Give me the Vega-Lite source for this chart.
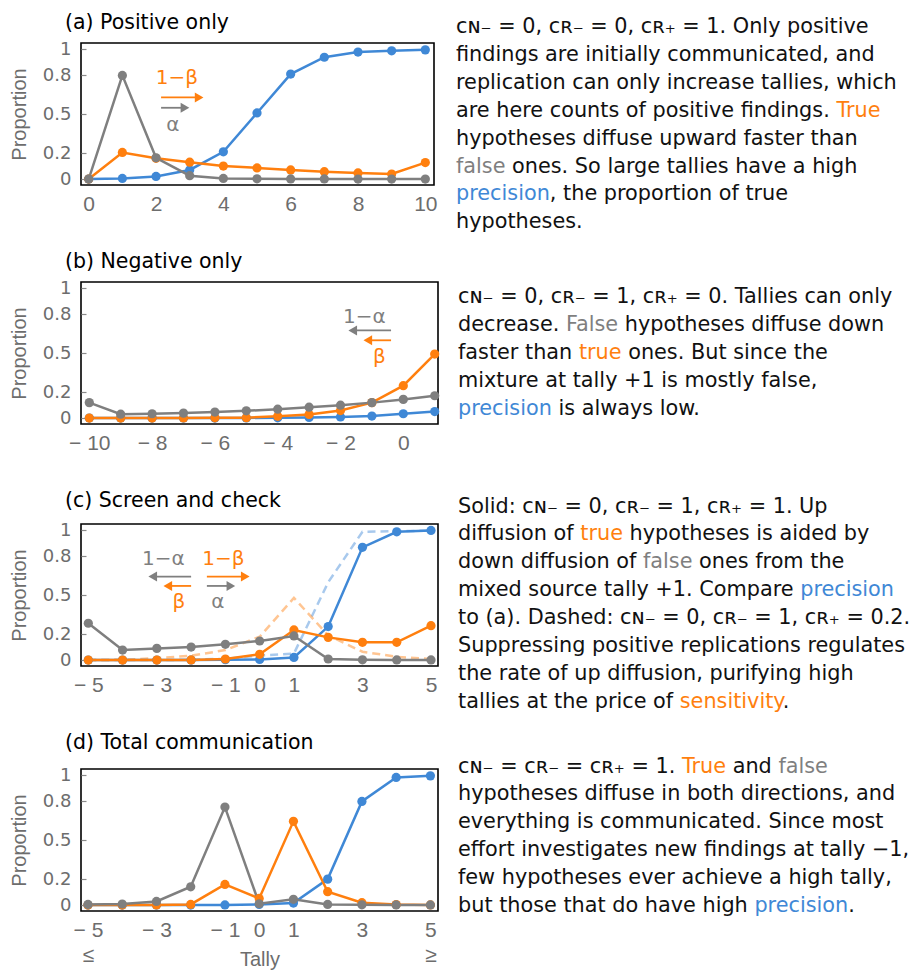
{
"$schema": "https://vega.github.io/schema/vega-lite/v6.json",
"padding": {"left": 8, "top": 12, "right": 0, "bottom": 0},
"config": {
  "font": "DejaVu Sans",
  "view": {"stroke": "black", "strokeWidth": 1.6},
  "axis": {"domain": false, "ticks": false, "grid": false, "labelColor": "#6d6d6d", "titleColor": "#6d6d6d", "labelFlush": false, "labelOverlap": false},
  "axisX": {"labelFont": "Liberation Sans", "labelFontSize": 21, "labelPadding": 8},
  "axisY": {"labelFont": "DejaVu Sans", "labelFontSize": 18, "labelPadding": 15, "ticks": true, "tickSize": -5, "tickColor": "#8a8a8a", "tickWidth": 1.2, "titleFont": "Liberation Sans", "titleFontSize": 20, "titleFontWeight": "normal", "titlePadding": 13},
  "title": {"font": "DejaVu Sans", "fontSize": 20.5, "fontWeight": "normal", "anchor": "start", "frame": "group", "color": "black", "dx": -16}
},
"datasets": {
  "ser": [
    {"panel":"a","st":"solid","h":"Precision","x":0,"y":0},{"panel":"a","st":"solid","h":"Precision","x":1,"y":0.005},{"panel":"a","st":"solid","h":"Precision","x":2,"y":0.02},{"panel":"a","st":"solid","h":"Precision","x":3,"y":0.07},{"panel":"a","st":"solid","h":"Precision","x":4,"y":0.21},{"panel":"a","st":"solid","h":"Precision","x":5,"y":0.51},{"panel":"a","st":"solid","h":"Precision","x":6,"y":0.81},{"panel":"a","st":"solid","h":"Precision","x":7,"y":0.94},{"panel":"a","st":"solid","h":"Precision","x":8,"y":0.98},{"panel":"a","st":"solid","h":"Precision","x":9,"y":0.99},{"panel":"a","st":"solid","h":"Precision","x":10,"y":0.997},
    {"panel":"a","st":"solid","h":"True","x":0,"y":0},{"panel":"a","st":"solid","h":"True","x":1,"y":0.205},{"panel":"a","st":"solid","h":"True","x":2,"y":0.16},{"panel":"a","st":"solid","h":"True","x":3,"y":0.13},{"panel":"a","st":"solid","h":"True","x":4,"y":0.1},{"panel":"a","st":"solid","h":"True","x":5,"y":0.086},{"panel":"a","st":"solid","h":"True","x":6,"y":0.07},{"panel":"a","st":"solid","h":"True","x":7,"y":0.057},{"panel":"a","st":"solid","h":"True","x":8,"y":0.047},{"panel":"a","st":"solid","h":"True","x":9,"y":0.039},{"panel":"a","st":"solid","h":"True","x":10,"y":0.127},
    {"panel":"a","st":"solid","h":"False","x":0,"y":0},{"panel":"a","st":"solid","h":"False","x":1,"y":0.8},{"panel":"a","st":"solid","h":"False","x":2,"y":0.164},{"panel":"a","st":"solid","h":"False","x":3,"y":0.026},{"panel":"a","st":"solid","h":"False","x":4,"y":0.005},{"panel":"a","st":"solid","h":"False","x":5,"y":0.002},{"panel":"a","st":"solid","h":"False","x":6,"y":0.001},{"panel":"a","st":"solid","h":"False","x":7,"y":0.001},{"panel":"a","st":"solid","h":"False","x":8,"y":0},{"panel":"a","st":"solid","h":"False","x":9,"y":0},{"panel":"a","st":"solid","h":"False","x":10,"y":0},

    {"panel":"b","st":"solid","h":"Precision","x":-10,"y":0},{"panel":"b","st":"solid","h":"Precision","x":-9,"y":0},{"panel":"b","st":"solid","h":"Precision","x":-8,"y":0},{"panel":"b","st":"solid","h":"Precision","x":-7,"y":0},{"panel":"b","st":"solid","h":"Precision","x":-6,"y":0},{"panel":"b","st":"solid","h":"Precision","x":-5,"y":0.001},{"panel":"b","st":"solid","h":"Precision","x":-4,"y":0.002},{"panel":"b","st":"solid","h":"Precision","x":-3,"y":0.005},{"panel":"b","st":"solid","h":"Precision","x":-2,"y":0.008},{"panel":"b","st":"solid","h":"Precision","x":-1,"y":0.015},{"panel":"b","st":"solid","h":"Precision","x":0,"y":0.033},{"panel":"b","st":"solid","h":"Precision","x":1,"y":0.05},
    {"panel":"b","st":"solid","h":"True","x":-10,"y":0},{"panel":"b","st":"solid","h":"True","x":-9,"y":0},{"panel":"b","st":"solid","h":"True","x":-8,"y":0},{"panel":"b","st":"solid","h":"True","x":-7,"y":0.001},{"panel":"b","st":"solid","h":"True","x":-6,"y":0.002},{"panel":"b","st":"solid","h":"True","x":-5,"y":0.003},{"panel":"b","st":"solid","h":"True","x":-4,"y":0.013},{"panel":"b","st":"solid","h":"True","x":-3,"y":0.028},{"panel":"b","st":"solid","h":"True","x":-2,"y":0.058},{"panel":"b","st":"solid","h":"True","x":-1,"y":0.119},{"panel":"b","st":"solid","h":"True","x":0,"y":0.25},{"panel":"b","st":"solid","h":"True","x":1,"y":0.494},
    {"panel":"b","st":"solid","h":"False","x":-10,"y":0.119},{"panel":"b","st":"solid","h":"False","x":-9,"y":0.03},{"panel":"b","st":"solid","h":"False","x":-8,"y":0.033},{"panel":"b","st":"solid","h":"False","x":-7,"y":0.038},{"panel":"b","st":"solid","h":"False","x":-6,"y":0.046},{"panel":"b","st":"solid","h":"False","x":-5,"y":0.056},{"panel":"b","st":"solid","h":"False","x":-4,"y":0.068},{"panel":"b","st":"solid","h":"False","x":-3,"y":0.084},{"panel":"b","st":"solid","h":"False","x":-2,"y":0.099},{"panel":"b","st":"solid","h":"False","x":-1,"y":0.119},{"panel":"b","st":"solid","h":"False","x":0,"y":0.144},{"panel":"b","st":"solid","h":"False","x":1,"y":0.172},

    {"panel":"c","st":"dashed","h":"Precision","x":-5,"y":0},{"panel":"c","st":"dashed","h":"Precision","x":-4,"y":0},{"panel":"c","st":"dashed","h":"Precision","x":-3,"y":0},{"panel":"c","st":"dashed","h":"Precision","x":-2,"y":0.002},{"panel":"c","st":"dashed","h":"Precision","x":-1,"y":0.01},{"panel":"c","st":"dashed","h":"Precision","x":0,"y":0.035},{"panel":"c","st":"dashed","h":"Precision","x":1,"y":0.05},{"panel":"c","st":"dashed","h":"Precision","x":2,"y":0.6},{"panel":"c","st":"dashed","h":"Precision","x":3,"y":0.99},{"panel":"c","st":"dashed","h":"Precision","x":4,"y":0.995},{"panel":"c","st":"dashed","h":"Precision","x":5,"y":0.998},
    {"panel":"c","st":"dashed","h":"True","x":-5,"y":0},{"panel":"c","st":"dashed","h":"True","x":-4,"y":0.002},{"panel":"c","st":"dashed","h":"True","x":-3,"y":0.015},{"panel":"c","st":"dashed","h":"True","x":-2,"y":0.033},{"panel":"c","st":"dashed","h":"True","x":-1,"y":0.077},{"panel":"c","st":"dashed","h":"True","x":0,"y":0.18},{"panel":"c","st":"dashed","h":"True","x":1,"y":0.48},{"panel":"c","st":"dashed","h":"True","x":2,"y":0.19},{"panel":"c","st":"dashed","h":"True","x":3,"y":0.064},{"panel":"c","st":"dashed","h":"True","x":4,"y":0.025},{"panel":"c","st":"dashed","h":"True","x":5,"y":0.008},
    {"panel":"c","st":"solid","h":"Precision","x":-5,"y":0},{"panel":"c","st":"solid","h":"Precision","x":-4,"y":0},{"panel":"c","st":"solid","h":"Precision","x":-3,"y":0},{"panel":"c","st":"solid","h":"Precision","x":-2,"y":0},{"panel":"c","st":"solid","h":"Precision","x":-1,"y":0.003},{"panel":"c","st":"solid","h":"Precision","x":0,"y":0.005},{"panel":"c","st":"solid","h":"Precision","x":1,"y":0.02},{"panel":"c","st":"solid","h":"Precision","x":2,"y":0.258},{"panel":"c","st":"solid","h":"Precision","x":3,"y":0.87},{"panel":"c","st":"solid","h":"Precision","x":4,"y":0.99},{"panel":"c","st":"solid","h":"Precision","x":5,"y":1.0},
    {"panel":"c","st":"solid","h":"True","x":-5,"y":0},{"panel":"c","st":"solid","h":"True","x":-4,"y":0},{"panel":"c","st":"solid","h":"True","x":-3,"y":0},{"panel":"c","st":"solid","h":"True","x":-2,"y":0.001},{"panel":"c","st":"solid","h":"True","x":-1,"y":0.008},{"panel":"c","st":"solid","h":"True","x":0,"y":0.044},{"panel":"c","st":"solid","h":"True","x":1,"y":0.232},{"panel":"c","st":"solid","h":"True","x":2,"y":0.175},{"panel":"c","st":"solid","h":"True","x":3,"y":0.137},{"panel":"c","st":"solid","h":"True","x":4,"y":0.137},{"panel":"c","st":"solid","h":"True","x":5,"y":0.265},
    {"panel":"c","st":"solid","h":"False","x":-5,"y":0.284},{"panel":"c","st":"solid","h":"False","x":-4,"y":0.077},{"panel":"c","st":"solid","h":"False","x":-3,"y":0.09},{"panel":"c","st":"solid","h":"False","x":-2,"y":0.1},{"panel":"c","st":"solid","h":"False","x":-1,"y":0.121},{"panel":"c","st":"solid","h":"False","x":0,"y":0.147},{"panel":"c","st":"solid","h":"False","x":1,"y":0.186},{"panel":"c","st":"solid","h":"False","x":2,"y":0.008},{"panel":"c","st":"solid","h":"False","x":3,"y":0.002},{"panel":"c","st":"solid","h":"False","x":4,"y":0.001},{"panel":"c","st":"solid","h":"False","x":5,"y":0.001},

    {"panel":"d","st":"solid","h":"Precision","x":-5,"y":0},{"panel":"d","st":"solid","h":"Precision","x":-4,"y":0},{"panel":"d","st":"solid","h":"Precision","x":-3,"y":0},{"panel":"d","st":"solid","h":"Precision","x":-2,"y":0},{"panel":"d","st":"solid","h":"Precision","x":-1,"y":0.001},{"panel":"d","st":"solid","h":"Precision","x":0,"y":0.005},{"panel":"d","st":"solid","h":"Precision","x":1,"y":0.015},{"panel":"d","st":"solid","h":"Precision","x":2,"y":0.2},{"panel":"d","st":"solid","h":"Precision","x":3,"y":0.8},{"panel":"d","st":"solid","h":"Precision","x":4,"y":0.985},{"panel":"d","st":"solid","h":"Precision","x":5,"y":0.997},
    {"panel":"d","st":"solid","h":"True","x":-5,"y":0},{"panel":"d","st":"solid","h":"True","x":-4,"y":0},{"panel":"d","st":"solid","h":"True","x":-3,"y":0.001},{"panel":"d","st":"solid","h":"True","x":-2,"y":0.005},{"panel":"d","st":"solid","h":"True","x":-1,"y":0.159},{"panel":"d","st":"solid","h":"True","x":0,"y":0.051},{"panel":"d","st":"solid","h":"True","x":1,"y":0.646},{"panel":"d","st":"solid","h":"True","x":2,"y":0.103},{"panel":"d","st":"solid","h":"True","x":3,"y":0.018},{"panel":"d","st":"solid","h":"True","x":4,"y":0.004},{"panel":"d","st":"solid","h":"True","x":5,"y":0.001},
    {"panel":"d","st":"solid","h":"False","x":-5,"y":0.005},{"panel":"d","st":"solid","h":"False","x":-4,"y":0.008},{"panel":"d","st":"solid","h":"False","x":-3,"y":0.028},{"panel":"d","st":"solid","h":"False","x":-2,"y":0.141},{"panel":"d","st":"solid","h":"False","x":-1,"y":0.756},{"panel":"d","st":"solid","h":"False","x":0,"y":0.01},{"panel":"d","st":"solid","h":"False","x":1,"y":0.044},{"panel":"d","st":"solid","h":"False","x":2,"y":0.005},{"panel":"d","st":"solid","h":"False","x":3,"y":0.002},{"panel":"d","st":"solid","h":"False","x":4,"y":0.001},{"panel":"d","st":"solid","h":"False","x":5,"y":0.001}
  ],
  "arr": [
    {"panel":"a","h":"True","x":2.15,"xe":3.28,"y":0.63},
    {"panel":"a","h":"False","x":2.15,"xe":2.86,"y":0.55},
    {"panel":"b","h":"False","x":-0.39,"xe":-1.61,"y":0.676},
    {"panel":"b","h":"True","x":-0.39,"xe":-1.13,"y":0.6},
    {"panel":"c","h":"False","x":-2.0,"xe":-3.12,"y":0.644},
    {"panel":"c","h":"True","x":-2.0,"xe":-2.68,"y":0.572},
    {"panel":"c","h":"True","x":-1.54,"xe":-0.42,"y":0.644},
    {"panel":"c","h":"False","x":-1.54,"xe":-0.84,"y":0.572}
  ],
  "head": [
    {"panel":"a","h":"True","dir":"right","x":3.28,"y":0.63},
    {"panel":"a","h":"False","dir":"right","x":2.86,"y":0.55},
    {"panel":"b","h":"False","dir":"left","x":-1.61,"y":0.676},
    {"panel":"b","h":"True","dir":"left","x":-1.13,"y":0.6},
    {"panel":"c","h":"False","dir":"left","x":-3.12,"y":0.644},
    {"panel":"c","h":"True","dir":"left","x":-2.68,"y":0.572},
    {"panel":"c","h":"True","dir":"right","x":-0.42,"y":0.644},
    {"panel":"c","h":"False","dir":"right","x":-0.84,"y":0.572}
  ],
  "lab": [
    {"panel":"a","h":"True","s":"1−β","x":2.62,"y":0.778},
    {"panel":"a","h":"False","s":"α","x":2.5,"y":0.416},
    {"panel":"b","h":"False","s":"1−α","x":-1.24,"y":0.777},
    {"panel":"b","h":"True","s":"β","x":-0.76,"y":0.468},
    {"panel":"c","h":"False","s":"1−α","x":-2.81,"y":0.78},
    {"panel":"c","h":"True","s":"β","x":-2.36,"y":0.445},
    {"panel":"c","h":"True","s":"1−β","x":-1.06,"y":0.78},
    {"panel":"c","h":"False","s":"α","x":-1.22,"y":0.45}
  ],
  "txt": [
    {"p":"a","k":0,"t":"cɴ₋ = 0, cʀ₋ = 0, cʀ₊ = 1. Only positive"},
    {"p":"a","k":1,"t":"findings are initially communicated, and"},
    {"p":"a","k":2,"t":"replication can only increase tallies, which"},
    {"p":"a","k":3,"t":"are here counts of positive findings. True"},
    {"p":"a","k":4,"t":"hypotheses diffuse upward faster than"},
    {"p":"a","k":5,"t":"false ones. So large tallies have a high"},
    {"p":"a","k":6,"t":"precision, the proportion of true"},
    {"p":"a","k":7,"t":"hypotheses."},
    {"p":"b","k":0,"t":"cɴ₋ = 0, cʀ₋ = 1, cʀ₊ = 0. Tallies can only"},
    {"p":"b","k":1,"t":"decrease. False hypotheses diffuse down"},
    {"p":"b","k":2,"t":"faster than true ones. But since the"},
    {"p":"b","k":3,"t":"mixture at tally +1 is mostly false,"},
    {"p":"b","k":4,"t":"precision is always low."},
    {"p":"c","k":0,"t":"Solid: cɴ₋ = 0, cʀ₋ = 1, cʀ₊ = 1. Up"},
    {"p":"c","k":1,"t":"diffusion of true hypotheses is aided by"},
    {"p":"c","k":2,"t":"down diffusion of false ones from the"},
    {"p":"c","k":3,"t":"mixed source tally +1. Compare precision"},
    {"p":"c","k":4,"t":"to (a). Dashed: cɴ₋ = 0, cʀ₋ = 1, cʀ₊ = 0.2."},
    {"p":"c","k":5,"t":"Suppressing positive replications regulates"},
    {"p":"c","k":6,"t":"the rate of up diffusion, purifying high"},
    {"p":"c","k":7,"t":"tallies at the price of sensitivity."},
    {"p":"d","k":0,"t":"cɴ₋ = cʀ₋ = cʀ₊ = 1. True and false"},
    {"p":"d","k":1,"t":"hypotheses diffuse in both directions, and"},
    {"p":"d","k":2,"t":"everything is communicated. Since most"},
    {"p":"d","k":3,"t":"effort investigates new findings at tally −1,"},
    {"p":"d","k":4,"t":"few hypotheses ever achieve a high tally,"},
    {"p":"d","k":5,"t":"but those that do have high precision."}
  ],
  "hl": [
    {"p":"a","k":3,"r":1,"c":"True","upto":"are here counts of positive findings. True","before":"are here counts of positive findings. "},
    {"p":"a","k":5,"r":1,"c":"False","upto":"false","before":""},
    {"p":"a","k":6,"r":1,"c":"Precision","upto":"precision","before":""},
    {"p":"b","k":1,"r":1,"c":"False","upto":"decrease. False","before":"decrease. "},
    {"p":"b","k":2,"r":1,"c":"True","upto":"faster than true","before":"faster than "},
    {"p":"b","k":4,"r":1,"c":"Precision","upto":"precision","before":""},
    {"p":"c","k":1,"r":1,"c":"True","upto":"diffusion of true","before":"diffusion of "},
    {"p":"c","k":2,"r":1,"c":"False","upto":"down diffusion of false","before":"down diffusion of "},
    {"p":"c","k":3,"r":1,"c":"Precision","upto":"mixed source tally +1. Compare precision","before":"mixed source tally +1. Compare "},
    {"p":"c","k":7,"r":1,"c":"True","upto":"tallies at the price of sensitivity","before":"tallies at the price of "},
    {"p":"d","k":0,"r":1,"c":"True","upto":"cɴ₋ = cʀ₋ = cʀ₊ = 1. True","before":"cɴ₋ = cʀ₋ = cʀ₊ = 1. "},
    {"p":"d","k":0,"r":2,"c":"False","upto":"cɴ₋ = cʀ₋ = cʀ₊ = 1. True and false","before":"cɴ₋ = cʀ₋ = cʀ₊ = 1. True and "},
    {"p":"d","k":5,"r":1,"c":"Precision","upto":"but those that do have high precision","before":"but those that do have high "}
  ]
},
"spacing": 16,
"vconcat": [
  {"hconcat": [
    {"width": 353, "height": 142,
     "title": {"text": "(a) Positive only", "offset": 6.5},
     "encoding": {
       "x": {"field":"x","type":"quantitative","scale":{"domain":[-0.229,10.258],"nice":false,"zero":false},"axis":{"values":[0,2,4,6,8,10],"title":null}},
       "y": {"field":"y","type":"quantitative","scale":{"domain":[-0.046,1.05],"nice":false,"zero":false},"axis":{"values":[0,0.2,0.5,0.8,1],"format":"~g","title":"Proportion"}},
       "color": {"field":"h","type":"nominal","scale":{"domain":["Precision","True","False"],"range":["#3f88d6","#ff7f0e","#7f7f7f"]},"legend":null}
     },
     "layer": [
       {"data":{"name":"ser"},"transform":[{"filter":"datum.panel=='a'"}],"mark":{"type":"line","strokeWidth":2.5},"encoding":{}},
       {"data":{"name":"ser"},"transform":[{"filter":"datum.panel=='a'"}],"mark":{"type":"point","filled":true,"size":85,"opacity":1},"encoding":{}},
       {"data":{"name":"arr"},"transform":[{"filter":"datum.panel=='a'"}],"mark":{"type":"rule","strokeWidth":1.8},"encoding":{"x2":{"field":"xe"}}},
       {"data":{"name":"head"},"transform":[{"filter":"datum.panel=='a'"}],"mark":{"type":"point","filled":true,"size":100,"opacity":1},"encoding":{"shape":{"field":"dir","type":"nominal","scale":{"domain":["right","left"],"range":["triangle-right","triangle-left"]},"legend":null}}},
       {"data":{"name":"lab"},"transform":[{"filter":"datum.panel=='a'"}],"mark":{"type":"text","fontSize":20,"font":"DejaVu Sans"},"encoding":{"text":{"field":"s"}}}
     ]},
    {"width": 450, "height": 192, "view": {"stroke": null},
     "encoding": {
       "x": {"datum": 0, "type":"quantitative","scale":{"domain":[0,1]},"axis":null},
       "y": {"field":"k","type":"quantitative","scale":{"domain":[0.358,7.24],"reverse":true,"nice":false,"zero":false},"axis":null}
     },
     "layer": [
       {"data":{"name":"txt"},"transform":[{"filter":"datum.p=='a'"}],"mark":{"type":"text","align":"left","baseline":"alphabetic","fontSize":20.8,"font":"DejaVu Sans","color":"#111111"},"encoding":{"text":{"field":"t"}}},
       {"data":{"name":"hl"},"transform":[{"filter":"datum.p=='a' && datum.r==1"}],"mark":{"type":"text","align":"left","baseline":"alphabetic","fontSize":20.8,"font":"DejaVu Sans","fill":"white","stroke":"white","strokeWidth":2.2},"encoding":{"text":{"field":"upto"}}},
       {"data":{"name":"hl"},"transform":[{"filter":"datum.p=='a' && datum.r==1"}],"mark":{"type":"text","align":"left","baseline":"alphabetic","fontSize":20.8,"font":"DejaVu Sans"},"encoding":{"text":{"field":"upto"},"color":{"field":"c","type":"nominal","scale":{"domain":["True","False","Precision"],"range":["#ff7f2a","#9b9b9b","#4a90d9"]},"legend":null}}},
       {"data":{"name":"hl"},"transform":[{"filter":"datum.p=='a' && datum.r==1"}],"mark":{"type":"text","align":"left","baseline":"alphabetic","fontSize":20.8,"font":"DejaVu Sans","fill":"white","stroke":"white","strokeWidth":2.2},"encoding":{"text":{"field":"before"}}},
       {"data":{"name":"hl"},"transform":[{"filter":"datum.p=='a' && datum.r==1"}],"mark":{"type":"text","align":"left","baseline":"alphabetic","fontSize":20.8,"font":"DejaVu Sans","color":"#111111"},"encoding":{"text":{"field":"before"}}}
     ]}
  ], "spacing": 22, "bounds": "flush"},

  {"hconcat": [
    {"width": 357, "height": 142,
     "title": {"text": "(b) Negative only", "offset": 7},
     "encoding": {
       "x": {"field":"x","type":"quantitative","scale":{"domain":[-10.264,1.105],"nice":false,"zero":false},"axis":{"values":[-10,-8,-6,-4,-2,0],"title":null,"labelExpr":"replace(datum.label, '−', '− ')"}},
       "y": {"field":"y","type":"quantitative","scale":{"domain":[-0.046,1.05],"nice":false,"zero":false},"axis":{"values":[0,0.2,0.5,0.8,1],"format":"~g","title":"Proportion"}},
       "color": {"field":"h","type":"nominal","scale":{"domain":["Precision","True","False"],"range":["#3f88d6","#ff7f0e","#7f7f7f"]},"legend":null}
     },
     "layer": [
       {"data":{"name":"ser"},"transform":[{"filter":"datum.panel=='b'"}],"mark":{"type":"line","strokeWidth":2.5},"encoding":{}},
       {"data":{"name":"ser"},"transform":[{"filter":"datum.panel=='b'"}],"mark":{"type":"point","filled":true,"size":85,"opacity":1},"encoding":{}},
       {"data":{"name":"arr"},"transform":[{"filter":"datum.panel=='b'"}],"mark":{"type":"rule","strokeWidth":1.8},"encoding":{"x2":{"field":"xe"}}},
       {"data":{"name":"head"},"transform":[{"filter":"datum.panel=='b'"}],"mark":{"type":"point","filled":true,"size":100,"opacity":1},"encoding":{"shape":{"field":"dir","type":"nominal","scale":{"domain":["right","left"],"range":["triangle-right","triangle-left"]},"legend":null}}},
       {"data":{"name":"lab"},"transform":[{"filter":"datum.panel=='b'"}],"mark":{"type":"text","fontSize":20,"font":"DejaVu Sans"},"encoding":{"text":{"field":"s"}}}
     ]},
    {"width": 450, "height": 192, "view": {"stroke": null},
     "encoding": {
       "x": {"datum": 0, "type":"quantitative","scale":{"domain":[0,1]},"axis":null},
       "y": {"field":"k","type":"quantitative","scale":{"domain":[-0.75,6.132],"reverse":true,"nice":false,"zero":false},"axis":null}
     },
     "layer": [
       {"data":{"name":"txt"},"transform":[{"filter":"datum.p=='b'"}],"mark":{"type":"text","align":"left","baseline":"alphabetic","fontSize":20.8,"font":"DejaVu Sans","color":"#111111"},"encoding":{"text":{"field":"t"}}},
       {"data":{"name":"hl"},"transform":[{"filter":"datum.p=='b' && datum.r==1"}],"mark":{"type":"text","align":"left","baseline":"alphabetic","fontSize":20.8,"font":"DejaVu Sans","fill":"white","stroke":"white","strokeWidth":2.2},"encoding":{"text":{"field":"upto"}}},
       {"data":{"name":"hl"},"transform":[{"filter":"datum.p=='b' && datum.r==1"}],"mark":{"type":"text","align":"left","baseline":"alphabetic","fontSize":20.8,"font":"DejaVu Sans"},"encoding":{"text":{"field":"upto"},"color":{"field":"c","type":"nominal","scale":{"domain":["True","False","Precision"],"range":["#ff7f2a","#9b9b9b","#4a90d9"]},"legend":null}}},
       {"data":{"name":"hl"},"transform":[{"filter":"datum.p=='b' && datum.r==1"}],"mark":{"type":"text","align":"left","baseline":"alphabetic","fontSize":20.8,"font":"DejaVu Sans","fill":"white","stroke":"white","strokeWidth":2.2},"encoding":{"text":{"field":"before"}}},
       {"data":{"name":"hl"},"transform":[{"filter":"datum.p=='b' && datum.r==1"}],"mark":{"type":"text","align":"left","baseline":"alphabetic","fontSize":20.8,"font":"DejaVu Sans","color":"#111111"},"encoding":{"text":{"field":"before"}}}
     ]}
  ], "spacing": 20, "bounds": "flush"},

  {"hconcat": [
    {"width": 357, "height": 142,
     "title": {"text": "(c) Screen and check", "offset": 10},
     "encoding": {
       "x": {"field":"x","type":"quantitative","scale":{"domain":[-5.213,5.204],"nice":false,"zero":false},"axis":{"values":[-5,-3,-1,0,1,3,5],"title":null,"labelExpr":"replace(datum.label, '−', '− ')"}},
       "y": {"field":"y","type":"quantitative","scale":{"domain":[-0.046,1.05],"nice":false,"zero":false},"axis":{"values":[0,0.2,0.5,0.8,1],"format":"~g","title":"Proportion"}},
       "color": {"field":"h","type":"nominal","scale":{"domain":["Precision","True","False"],"range":["#3f88d6","#ff7f0e","#7f7f7f"]},"legend":null}
     },
     "layer": [
       {"data":{"name":"ser"},"transform":[{"filter":"datum.panel=='c' && datum.st=='dashed'"}],"mark":{"type":"line","strokeWidth":2.5,"strokeDash":[8,5],"opacity":0.45},"encoding":{}},
       {"data":{"name":"ser"},"transform":[{"filter":"datum.panel=='c' && datum.st=='solid'"}],"mark":{"type":"line","strokeWidth":2.5},"encoding":{}},
       {"data":{"name":"ser"},"transform":[{"filter":"datum.panel=='c' && datum.st=='solid'"}],"mark":{"type":"point","filled":true,"size":85,"opacity":1},"encoding":{}},
       {"data":{"name":"arr"},"transform":[{"filter":"datum.panel=='c'"}],"mark":{"type":"rule","strokeWidth":1.8},"encoding":{"x2":{"field":"xe"}}},
       {"data":{"name":"head"},"transform":[{"filter":"datum.panel=='c'"}],"mark":{"type":"point","filled":true,"size":100,"opacity":1},"encoding":{"shape":{"field":"dir","type":"nominal","scale":{"domain":["right","left"],"range":["triangle-right","triangle-left"]},"legend":null}}},
       {"data":{"name":"lab"},"transform":[{"filter":"datum.panel=='c'"}],"mark":{"type":"text","fontSize":20,"font":"DejaVu Sans"},"encoding":{"text":{"field":"s"}}}
     ]},
    {"width": 450, "height": 192, "view": {"stroke": null},
     "encoding": {
       "x": {"datum": 0, "type":"quantitative","scale":{"domain":[0,1]},"axis":null},
       "y": {"field":"k","type":"quantitative","scale":{"domain":[0.409,7.291],"reverse":true,"nice":false,"zero":false},"axis":null}
     },
     "layer": [
       {"data":{"name":"txt"},"transform":[{"filter":"datum.p=='c'"}],"mark":{"type":"text","align":"left","baseline":"alphabetic","fontSize":20.8,"font":"DejaVu Sans","color":"#111111"},"encoding":{"text":{"field":"t"}}},
       {"data":{"name":"hl"},"transform":[{"filter":"datum.p=='c' && datum.r==1"}],"mark":{"type":"text","align":"left","baseline":"alphabetic","fontSize":20.8,"font":"DejaVu Sans","fill":"white","stroke":"white","strokeWidth":2.2},"encoding":{"text":{"field":"upto"}}},
       {"data":{"name":"hl"},"transform":[{"filter":"datum.p=='c' && datum.r==1"}],"mark":{"type":"text","align":"left","baseline":"alphabetic","fontSize":20.8,"font":"DejaVu Sans"},"encoding":{"text":{"field":"upto"},"color":{"field":"c","type":"nominal","scale":{"domain":["True","False","Precision"],"range":["#ff7f2a","#9b9b9b","#4a90d9"]},"legend":null}}},
       {"data":{"name":"hl"},"transform":[{"filter":"datum.p=='c' && datum.r==1"}],"mark":{"type":"text","align":"left","baseline":"alphabetic","fontSize":20.8,"font":"DejaVu Sans","fill":"white","stroke":"white","strokeWidth":2.2},"encoding":{"text":{"field":"before"}}},
       {"data":{"name":"hl"},"transform":[{"filter":"datum.p=='c' && datum.r==1"}],"mark":{"type":"text","align":"left","baseline":"alphabetic","fontSize":20.8,"font":"DejaVu Sans","color":"#111111"},"encoding":{"text":{"field":"before"}}}
     ]}
  ], "spacing": 20, "bounds": "flush"},

  {"hconcat": [
    {"width": 357, "height": 142,
     "title": {"text": "(d) Total communication", "offset": 12.5},
     "encoding": {
       "x": {"field":"x","type":"quantitative","scale":{"domain":[-5.204,5.222],"nice":false,"zero":false},"axis":{"values":[-5,-3,-1,0,1,3,5],"title":"Tally","titleFont":"Liberation Sans","titleFontSize":20,"titleFontWeight":"normal","titleBaseline":"top","titleY":38,"labelLineHeight":25,"labelExpr":"datum.value == -5 ? [replace(datum.label, '−', '− '), '≤'] : datum.value == 5 ? [datum.label, '≥'] : replace(datum.label, '−', '− ')"}},
       "y": {"field":"y","type":"quantitative","scale":{"domain":[-0.046,1.05],"nice":false,"zero":false},"axis":{"values":[0,0.2,0.5,0.8,1],"format":"~g","title":"Proportion"}},
       "color": {"field":"h","type":"nominal","scale":{"domain":["Precision","True","False"],"range":["#3f88d6","#ff7f0e","#7f7f7f"]},"legend":null}
     },
     "layer": [
       {"data":{"name":"ser"},"transform":[{"filter":"datum.panel=='d'"}],"mark":{"type":"line","strokeWidth":2.5},"encoding":{}},
       {"data":{"name":"ser"},"transform":[{"filter":"datum.panel=='d'"}],"mark":{"type":"point","filled":true,"size":85,"opacity":1},"encoding":{}}
     ]},
    {"width": 450, "height": 192, "view": {"stroke": null},
     "encoding": {
       "x": {"datum": 0, "type":"quantitative","scale":{"domain":[0,1]},"axis":null},
       "y": {"field":"k","type":"quantitative","scale":{"domain":[-0.129,6.753],"reverse":true,"nice":false,"zero":false},"axis":null}
     },
     "layer": [
       {"data":{"name":"txt"},"transform":[{"filter":"datum.p=='d'"}],"mark":{"type":"text","align":"left","baseline":"alphabetic","fontSize":20.8,"font":"DejaVu Sans","color":"#111111"},"encoding":{"text":{"field":"t"}}},
       {"data":{"name":"hl"},"transform":[{"filter":"datum.p=='d' && datum.r==2"}],"mark":{"type":"text","align":"left","baseline":"alphabetic","fontSize":20.8,"font":"DejaVu Sans","fill":"white","stroke":"white","strokeWidth":2.2},"encoding":{"text":{"field":"upto"}}},
       {"data":{"name":"hl"},"transform":[{"filter":"datum.p=='d' && datum.r==2"}],"mark":{"type":"text","align":"left","baseline":"alphabetic","fontSize":20.8,"font":"DejaVu Sans"},"encoding":{"text":{"field":"upto"},"color":{"field":"c","type":"nominal","scale":{"domain":["True","False","Precision"],"range":["#ff7f2a","#9b9b9b","#4a90d9"]},"legend":null}}},
       {"data":{"name":"hl"},"transform":[{"filter":"datum.p=='d' && datum.r==2"}],"mark":{"type":"text","align":"left","baseline":"alphabetic","fontSize":20.8,"font":"DejaVu Sans","fill":"white","stroke":"white","strokeWidth":2.2},"encoding":{"text":{"field":"before"}}},
       {"data":{"name":"hl"},"transform":[{"filter":"datum.p=='d' && datum.r==2"}],"mark":{"type":"text","align":"left","baseline":"alphabetic","fontSize":20.8,"font":"DejaVu Sans","color":"#111111"},"encoding":{"text":{"field":"before"}}},
       {"data":{"name":"hl"},"transform":[{"filter":"datum.p=='d' && datum.r==1"}],"mark":{"type":"text","align":"left","baseline":"alphabetic","fontSize":20.8,"font":"DejaVu Sans","fill":"white","stroke":"white","strokeWidth":2.2},"encoding":{"text":{"field":"upto"}}},
       {"data":{"name":"hl"},"transform":[{"filter":"datum.p=='d' && datum.r==1"}],"mark":{"type":"text","align":"left","baseline":"alphabetic","fontSize":20.8,"font":"DejaVu Sans"},"encoding":{"text":{"field":"upto"},"color":{"field":"c","type":"nominal","scale":{"domain":["True","False","Precision"],"range":["#ff7f2a","#9b9b9b","#4a90d9"]},"legend":null}}},
       {"data":{"name":"hl"},"transform":[{"filter":"datum.p=='d' && datum.r==1"}],"mark":{"type":"text","align":"left","baseline":"alphabetic","fontSize":20.8,"font":"DejaVu Sans","fill":"white","stroke":"white","strokeWidth":2.2},"encoding":{"text":{"field":"before"}}},
       {"data":{"name":"hl"},"transform":[{"filter":"datum.p=='d' && datum.r==1"}],"mark":{"type":"text","align":"left","baseline":"alphabetic","fontSize":20.8,"font":"DejaVu Sans","color":"#111111"},"encoding":{"text":{"field":"before"}}}
     ]}
  ], "spacing": 20, "bounds": "flush"}
]
}
